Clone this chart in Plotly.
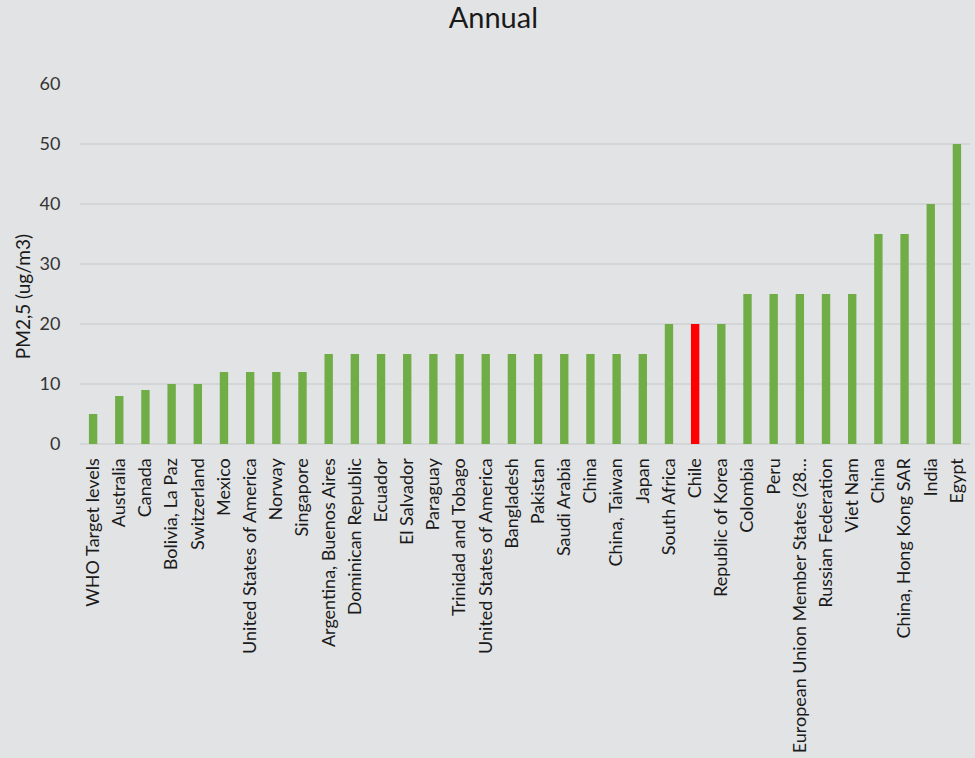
import plotly.graph_objects as go

# PM2.5 annual standards by country (ug/m3)
countries = [
    "WHO Target levels", "Australia", "Canada", "Bolivia, La Paz", "Switzerland",
    "Mexico", "United States of America", "Norway", "Singapore",
    "Argentina, Buenos Aires", "Dominican Republic", "Ecuador", "El Salvador",
    "Paraguay", "Trinidad and Tobago", "United States of America", "Bangladesh",
    "Pakistan", "Saudi Arabia", "China", "China, Taiwan", "Japan", "South Africa",
    "Chile", "Republic of Korea", "Colombia", "Peru",
    "European Union Member States (28…", "Russian Federation", "Viet Nam",
    "China", "China, Hong Kong SAR", "India", "Egypt",
]
pm25 = [5, 8, 9, 10, 10, 12, 12, 12, 12, 15, 15, 15, 15, 15, 15, 15, 15,
        15, 15, 15, 15, 15, 20, 20, 20, 25, 25, 25, 25, 25, 35, 35, 40, 50]
highlight = "Chile"
y_ticks = [0, 10, 20, 30, 40, 50, 60]

positions = list(range(len(countries)))
colors = ["#ff0000" if c == highlight else "#70ad47" for c in countries]

FONT = "Lato"

fig = go.Figure(
    go.Bar(
        x=positions,
        y=pm25,
        marker=dict(color=colors, line=dict(width=0)),
        width=0.32,
        hovertext=countries,
    )
)

fig.update_layout(
    width=975,
    height=758,
    margin=dict(l=80, r=5, t=84, b=314),
    paper_bgcolor="#e2e3e5",
    plot_bgcolor="#e2e3e5",
    showlegend=False,
    title=dict(
        text="Annual",
        x=0.506,
        xref="container",
        xanchor="center",
        y=0.977,
        yanchor="middle",
        font=dict(family=FONT, size=29, color="#1a1a1a"),
    ),
    xaxis=dict(
        tickmode="array",
        tickvals=positions,
        ticktext=countries,
        tickangle=-90,
        range=[-0.5, len(countries) - 0.5],
        showgrid=False,
        zeroline=False,
        ticks="outside",
        ticklen=6,
        tickcolor="rgba(0,0,0,0)",
        tickfont=dict(family=FONT, size=18, color="#1a1a1a"),
    ),
    yaxis=dict(
        range=[0, 60],
        tickvals=y_ticks,
        showgrid=True,
        gridcolor="#d4d5d7",
        gridwidth=1.5,
        zeroline=True,
        zerolinecolor="#d4d5d7",
        zerolinewidth=1.5,
        ticks="outside",
        ticklen=15,
        tickcolor="rgba(0,0,0,0)",
        tickfont=dict(family=FONT, size=18, color="#333333"),
    ),
    annotations=[
        dict(
            text="PM2,5 (ug/m3)",
            textangle=-90,
            xref="paper",
            yref="paper",
            x=-0.065,
            y=(444 - 297) / 360,
            xanchor="center",
            yanchor="middle",
            showarrow=False,
            font=dict(family=FONT, size=19, color="#1a1a1a"),
        )
    ],
)

fig.write_html("out.html")
